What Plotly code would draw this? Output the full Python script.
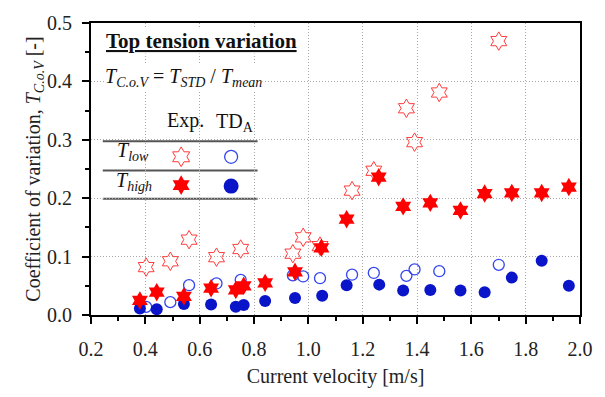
import plotly.graph_objects as go

# Exp. T_low (open stars)
exp_low_x = [0.403, 0.492, 0.561, 0.662, 0.751, 0.943, 0.981, 1.043, 1.161, 1.241, 1.361, 1.391, 1.482, 1.701]
exp_low_y = [0.082, 0.092, 0.129, 0.099, 0.113, 0.105, 0.133, 0.118, 0.213, 0.247, 0.354, 0.296, 0.381, 0.469]

# Exp. T_high (filled stars)
exp_high_x = [0.380, 0.442, 0.542, 0.642, 0.733, 0.762, 0.841, 0.951, 1.048, 1.141, 1.259, 1.349, 1.449, 1.560, 1.649, 1.749, 1.859, 1.959]
exp_high_y = [0.025, 0.039, 0.032, 0.046, 0.043, 0.050, 0.055, 0.074, 0.115, 0.164, 0.236, 0.186, 0.192, 0.179, 0.208, 0.209, 0.209, 0.219]

# TD_A T_low (open circles)
td_low_x = [0.403, 0.492, 0.561, 0.662, 0.751, 0.943, 0.981, 1.043, 1.161, 1.241, 1.361, 1.391, 1.482, 1.701]
td_low_y = [0.014, 0.022, 0.051, 0.054, 0.060, 0.068, 0.066, 0.063, 0.069, 0.072, 0.067, 0.078, 0.075, 0.086]

# TD_A T_high (filled circles)
td_high_x = [0.380, 0.442, 0.542, 0.642, 0.733, 0.762, 0.841, 0.951, 1.051, 1.141, 1.261, 1.349, 1.449, 1.560, 1.649, 1.749, 1.859, 1.959]
td_high_y = [0.011, 0.010, 0.019, 0.018, 0.014, 0.017, 0.024, 0.029, 0.033, 0.051, 0.052, 0.042, 0.043, 0.042, 0.039, 0.064, 0.093, 0.050]

FONT = "Liberation Serif"
RED = "#ff0000"
BLUE = "#0a14c8"
OPEN_RED = "#ff3b3b"
OPEN_BLUE = "#3345f0"

fig = go.Figure()
fig.add_trace(go.Scatter(x=td_low_x, y=td_low_y, mode="markers",
                         marker=dict(symbol="circle-open", size=11, color=OPEN_BLUE, line=dict(width=1.3))))
fig.add_trace(go.Scatter(x=td_high_x, y=td_high_y, mode="markers",
                         marker=dict(symbol="circle", size=12, color=BLUE)))
fig.add_trace(go.Scatter(x=exp_low_x, y=exp_low_y, mode="markers",
                         marker=dict(symbol="hexagram-open", size=14, color=OPEN_RED, line=dict(width=1))))
fig.add_trace(go.Scatter(x=exp_high_x, y=exp_high_y, mode="markers",
                         marker=dict(symbol="hexagram", size=14, color=RED)))

# legend-table symbols (paper coordinates)
def px2paper_x(px):
    return (px - 91) / (590 - 91)

def px2paper_y(py):
    return (315 - py) / (315 - 16)

fig.add_trace(go.Scatter(x=[px2paper_x(183)], y=[px2paper_y(153)], xaxis="x2", yaxis="y2", mode="markers",
                         marker=dict(symbol="hexagram-open", size=15, color=OPEN_RED, line=dict(width=1))))
fig.add_trace(go.Scatter(x=[px2paper_x(234)], y=[px2paper_y(153)], xaxis="x2", yaxis="y2", mode="markers",
                         marker=dict(symbol="circle-open", size=13, color=OPEN_BLUE, line=dict(width=1.3))))
fig.add_trace(go.Scatter(x=[px2paper_x(183)], y=[px2paper_y(182)], xaxis="x2", yaxis="y2", mode="markers",
                         marker=dict(symbol="hexagram", size=15, color=RED)))
fig.add_trace(go.Scatter(x=[px2paper_x(234)], y=[px2paper_y(183)], xaxis="x2", yaxis="y2", mode="markers",
                         marker=dict(symbol="circle", size=15, color=BLUE)))

axis_common = dict(showline=True, linecolor="black", linewidth=2, mirror=True,
                   ticks="outside", tickcolor="black", tickwidth=2, ticklen=7,
                   showgrid=True, gridcolor="#a8a8a8", griddash="1px,2px", gridwidth=1,
                   zeroline=False, tickfont=dict(family=FONT, size=20, color="#222"),
                   title_font=dict(family=FONT, size=20, color="#222"))

fig.update_layout(
    width=605, height=397,
    margin=dict(l=91, r=15, t=16, b=82),
    plot_bgcolor="white", paper_bgcolor="white",
    showlegend=False,
    font=dict(family=FONT),
    xaxis=dict(range=[0.2, 2.0], dtick=0.2, tick0=0.2, tickformat=".1f", ticklabelstandoff=8,
               minor=dict(dtick=0.1, ticks="outside", ticklen=4, tickwidth=2, tickcolor="black", showgrid=False),
               title=dict(text="Current velocity [m/s]", standoff=10), **axis_common),
    yaxis=dict(range=[0, 0.5], dtick=0.1, tickformat=".1f", ticklabelstandoff=6,
               minor=dict(dtick=0.05, ticks="outside", ticklen=4, tickwidth=2, tickcolor="black", showgrid=False),
               title=dict(text="Coefficient of variation, <i>T</i><sub><i>C.o.V</i></sub> [-]", standoff=0),
               **axis_common),
    xaxis2=dict(range=[0, 1], visible=False, overlaying="x"),
    yaxis2=dict(range=[0, 1], visible=False, overlaying="y"),
)

ann_font = dict(family=FONT, size=20, color="#111")
annotations = [
    dict(x=px2paper_x(105), y=px2paper_y(34), text="<b><u>Top tension variation</u></b>", bgcolor="white",
         font=dict(family=FONT, size=21, color="#111")),
    dict(x=px2paper_x(104), y=px2paper_y(72), bgcolor="white",
         text="<i>T</i><sub><i>C.o.V</i></sub> = <i>T</i><sub><i>STD</i></sub> / <i>T</i><sub><i>mean</i></sub>",
         font=ann_font),
    dict(x=px2paper_x(168), y=px2paper_y(116), text="Exp.", font=ann_font),
    dict(x=px2paper_x(218), y=px2paper_y(118), text="TD<sub>A</sub>", font=ann_font),
    dict(x=px2paper_x(117), y=px2paper_y(148), text="<i>T</i><sub><i>low</i></sub>", font=ann_font),
    dict(x=px2paper_x(115), y=px2paper_y(178), text="<i>T</i><sub><i>high</i></sub>", font=ann_font),
]
for a in annotations:
    a.update(xref="paper", yref="paper", showarrow=False, xanchor="left", yanchor="middle", borderpad=0)
fig.update_layout(annotations=annotations)

# white panel behind the legend table (above grid, below markers)
fig.add_shape(type="rect", xref="paper", yref="paper", layer="between",
              x0=px2paper_x(101), x1=px2paper_x(262), y0=px2paper_y(108), y1=px2paper_y(196),
              fillcolor="white", line=dict(width=0))
for py in [137, 167, 196]:
    fig.add_shape(type="line", xref="paper", yref="paper", layer="between",
                  x0=px2paper_x(103), x1=px2paper_x(261), y0=px2paper_y(py), y1=px2paper_y(py),
                  line=dict(color="#555", width=2))

fig.write_html("out.html")
